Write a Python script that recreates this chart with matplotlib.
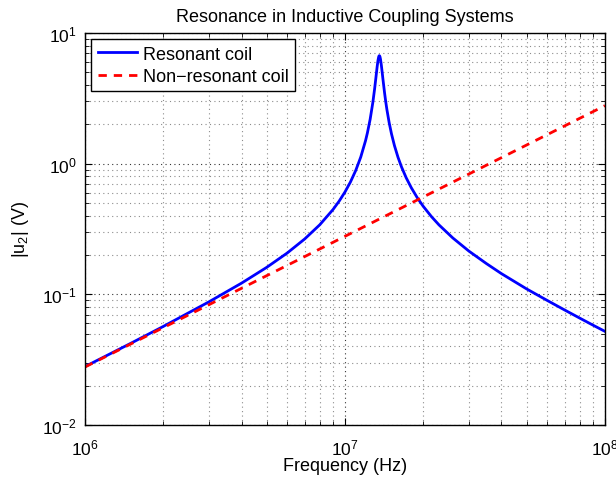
import matplotlib
matplotlib.use("Agg")
import matplotlib.pyplot as plt
import numpy as np
from matplotlib.ticker import LogLocator

plt.rcParams['font.family'] = ['Liberation Sans', 'DejaVu Sans']
plt.rcParams['mathtext.default'] = 'regular'

# frequency samples (MHz), dense around the peak
freq_res = np.array([1.0, 1.5, 2.0, 3.0, 4.0, 5.0, 6.0, 7.0, 8.0, 9.0, 9.5,
                     10.0, 10.5, 11.0, 11.5, 12.0, 12.2, 12.5, 12.8, 13.0,
                     13.15, 13.22, 13.3, 13.4, 13.48, 13.52, 13.56, 13.6,
                     13.64, 13.7, 13.8, 13.9, 14.0, 14.2, 14.35, 14.5, 14.8,
                     15.1, 15.5, 16.0, 16.5, 17.2, 18.0, 19.0, 20.0, 21.5,
                     23.0, 26.0, 30.0, 35.0, 40.0, 50.0, 60.0, 70.0, 80.0,
                     90.0, 100.0]) * 1e6
u2_res = np.array([0.0280, 0.0422, 0.0568, 0.0877, 0.1218, 0.1609, 0.2074,
                   0.2653, 0.3407, 0.4462, 0.5171, 0.607, 0.7247, 0.887,
                   1.123, 1.500, 1.721, 2.186, 2.938, 3.719, 4.532, 4.978,
                   5.524, 6.180, 6.565, 6.674, 6.71, 6.673, 6.569, 6.302,
                   5.691, 5.032, 4.433, 3.491, 2.979, 2.593, 2.049, 1.692,
                   1.376, 1.118, 0.945, 0.780, 0.654, 0.5465, 0.472, 0.394,
                   0.340, 0.270, 0.214, 0.172, 0.144, 0.110, 0.0898, 0.0759,
                   0.0658, 0.0581, 0.0521])

freq_nonres = np.array([1e6, 1e7, 1e8])
u2_nonres = np.array([0.0278, 0.278, 2.78])

fig = plt.figure(figsize=(6.16, 4.81), dpi=100)
ax = fig.add_axes([0.138, 0.1143, 0.844, 0.815])

ax.loglog(freq_res, u2_res, color=(0, 0, 1), lw=2.0, label='Resonant coil')
ax.loglog(freq_nonres, u2_nonres, color=(1, 0, 0), lw=2.0, ls=(0, (3, 2.5)),
          label='Non\u2212resonant coil')

ax.set_xlim(1e6, 1e8)
ax.set_ylim(1e-2, 1e1)
ax.xaxis.set_minor_locator(LogLocator(base=10, subs=np.arange(2, 10)))
ax.yaxis.set_minor_locator(LogLocator(base=10, subs=np.arange(2, 10)))

# matlab style dotted grid
ax.grid(True, which='major', ls=(0, (1, 3)), lw=0.8, color='0.2')
ax.grid(True, which='minor', ls=(0, (1, 3)), lw=0.8, color='0.55')
ax.set_axisbelow(True)

ax.tick_params(which='both', direction='in', top=True, right=True,
               labelsize=12.5)
ax.tick_params(which='major', length=5)
ax.tick_params(which='minor', length=3)
ax.tick_params(axis='x', which='major', pad=9)
ax.tick_params(axis='y', which='major', pad=6)
for s in ax.spines.values():
    s.set_linewidth(1.0)

ax.set_title('Resonance in Inductive Coupling Systems', fontsize=13, pad=9)
ax.set_xlabel('Frequency (Hz)', fontsize=13, labelpad=0)
ax.set_ylabel('$|u_2|$ (V)', fontsize=13, labelpad=8)

leg = ax.legend(loc='upper left', fontsize=13, frameon=True, fancybox=False,
                framealpha=1, edgecolor='black', borderaxespad=0.35,
                handlelength=2.2, handletextpad=0.3, borderpad=0.35,
                labelspacing=0.3)
leg.get_frame().set_linewidth(1.0)

fig.savefig('out.png', dpi=100)
